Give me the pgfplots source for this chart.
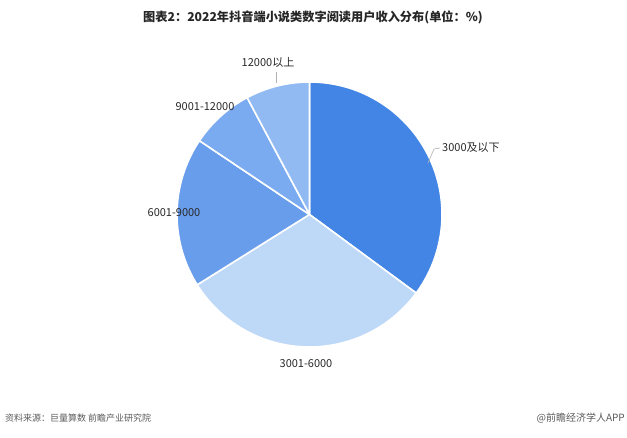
\documentclass[border=0pt]{standalone}
\usepackage{pgfplots}
\pgfplotsset{compat=1.18}
\usepackage{pgfplotstable}
\usepackage{fontspec}
\setmainfont{Noto Sans CJK SC}
\definecolor{c1}{RGB}{66,133,228}
\definecolor{c2}{RGB}{190,216,247}
\definecolor{c3}{RGB}{104,157,236}
\definecolor{c4}{RGB}{122,170,239}
\definecolor{c5}{RGB}{145,186,242}
\definecolor{lbl}{RGB}{40,40,40}
\definecolor{foot}{RGB}{90,90,90}
\pgfplotstableread{
idx value
0 35.1
1 31.0
2 18.3
3 7.8
4 7.8
}\piedata
\begin{document}
\begin{tikzpicture}
\pgfplotstablegetelem{0}{value}\of\piedata \pgfmathsetmacro\vA{\pgfplotsretval}
\pgfplotstablegetelem{1}{value}\of\piedata \pgfmathsetmacro\vB{\pgfplotsretval}
\pgfplotstablegetelem{2}{value}\of\piedata \pgfmathsetmacro\vC{\pgfplotsretval}
\pgfplotstablegetelem{3}{value}\of\piedata \pgfmathsetmacro\vD{\pgfplotsretval}
\pgfplotstablegetelem{4}{value}\of\piedata \pgfmathsetmacro\vE{\pgfplotsretval}
\pgfmathsetmacro\tot{\vA+\vB+\vC+\vD+\vE}
\pgfmathsetmacro\aA{90}
\pgfmathsetmacro\aB{\aA-360*\vA/\tot}
\pgfmathsetmacro\aC{\aB-360*\vB/\tot}
\pgfmathsetmacro\aD{\aC-360*\vC/\tot}
\pgfmathsetmacro\aE{\aD-360*\vD/\tot}
\pgfmathsetmacro\aF{\aE-360*\vE/\tot}
\begin{axis}[
  width=627pt, height=437pt, scale only axis,
  xmin=0, xmax=627, ymin=0, ymax=437,
  hide axis, clip=false]
\path (axis cs:0,0) rectangle (axis cs:627,437);
\def\cx{309.5}\def\cy{222.5}\def\R{132.5pt}
\fill[c1, draw=white, line width=1.6pt, line join=round] (axis cs:\cx,\cy) -- ++(\aA:\R) arc[start angle=\aA, end angle=\aB, radius=\R] -- cycle;
\fill[c2, draw=white, line width=1.6pt, line join=round] (axis cs:\cx,\cy) -- ++(\aB:\R) arc[start angle=\aB, end angle=\aC, radius=\R] -- cycle;
\fill[c3, draw=white, line width=1.6pt, line join=round] (axis cs:\cx,\cy) -- ++(\aC:\R) arc[start angle=\aC, end angle=\aD, radius=\R] -- cycle;
\fill[c4, draw=white, line width=1.6pt, line join=round] (axis cs:\cx,\cy) -- ++(\aD:\R) arc[start angle=\aD, end angle=\aE, radius=\R] -- cycle;
\fill[c5, draw=white, line width=1.6pt, line join=round] (axis cs:\cx,\cy) -- ++(\aE:\R) arc[start angle=\aE, end angle=\aF, radius=\R] -- cycle;
% leader lines
\draw[gray!60, line width=0.6pt] (axis cs:428,274) -- (axis cs:434,288) -- (axis cs:440,289);
\draw[gray!60, line width=0.6pt] (axis cs:276.7,354) -- (axis cs:276.7,365);
% labels
\node[anchor=west, text=lbl, font=\fontsize{11}{13}\selectfont, inner sep=0pt] at (axis cs:442,289) {3000及以下};
\node[text=lbl, font=\fontsize{11}{13}\selectfont, inner sep=0pt] at (axis cs:306,73) {3001-6000};
\node[text=lbl, font=\fontsize{11}{13}\selectfont, inner sep=0pt] at (axis cs:174,224) {6001-9000};
\node[text=lbl, font=\fontsize{11}{13}\selectfont, inner sep=0pt] at (axis cs:205,330) {9001-12000};
\node[text=lbl, font=\fontsize{11}{13}\selectfont, inner sep=0pt] at (axis cs:268,375) {12000以上};
% title
\node[font=\bfseries\fontsize{12.2}{14}\selectfont, text=black!85, inner sep=0pt] at (axis cs:313,420) {图表2：2022年抖音端小说类数字阅读用户收入分布(单位：\%)};
% footer
\node[anchor=west, text=foot, font=\fontsize{9}{11}\selectfont, inner sep=0pt] at (axis cs:5,19) {资料来源：巨量算数\ 前瞻产业研究院};
\node[anchor=east, text=foot, font=\fontsize{10}{12}\selectfont, inner sep=0pt] at (axis cs:625,19) {@前瞻经济学人APP};
\end{axis}
\end{tikzpicture}
\end{document}
